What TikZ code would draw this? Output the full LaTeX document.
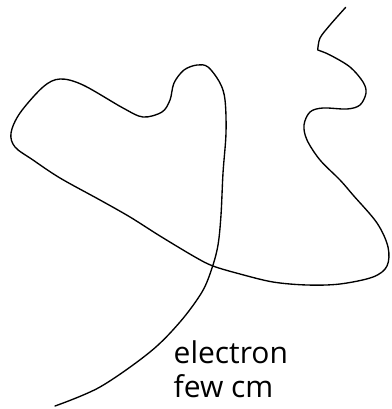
\documentclass[tikz,border=0pt]{standalone}
\usepackage{fontspec}
\setmainfont{Open Sans}
\begin{document}
\begin{tikzpicture}[x=1pt,y=-1pt,
  track/.style={draw=black,line width=1.35pt,line cap=round,line join=round},
  caption/.style={anchor=base west,inner sep=0pt,font=\fontsize{30}{34}\selectfont}]
\useasboundingbox (0,0) rectangle (391,409);
% particle track, drawn as one continuous line
\draw[track]
  plot[smooth,tension=0.5] coordinates {(345.7,7.3) (330,25) (320,38) (317.7,50)}
  plot[smooth,tension=0.55] coordinates {(317.7,50) (330,55) (350,67) (363,82) (366,93) (360,105)
    (347,109) (323,108) (310,112) (304,125) (307,140) (320,160) (340,180)
    (353,195) (377,223) (388,247) (387,266) (373,277) (340,284) (307,285)
    (273,282) (240,274) (213,266) (195,257) (160,236) (130,217) (100,200)
    (60,178) (33,160) (15,147) (11,133) (20,113) (43,87) (60,79) (83,85)
    (123,108) (143,117) (162,112) (170,100) (174,83) (184,70) (197,65)
    (208,67) (220,83) (225,100) (226,133) (223,173) (221,215) (218,245)
    (212,268) (202,292) (180,322) (150,352) (100,387) (55,406)};
\node[caption] (l1) at (173.5,363) {electron};
\node[caption] (l2) at (173.5,397) {few cm};
\end{tikzpicture}
\end{document}
